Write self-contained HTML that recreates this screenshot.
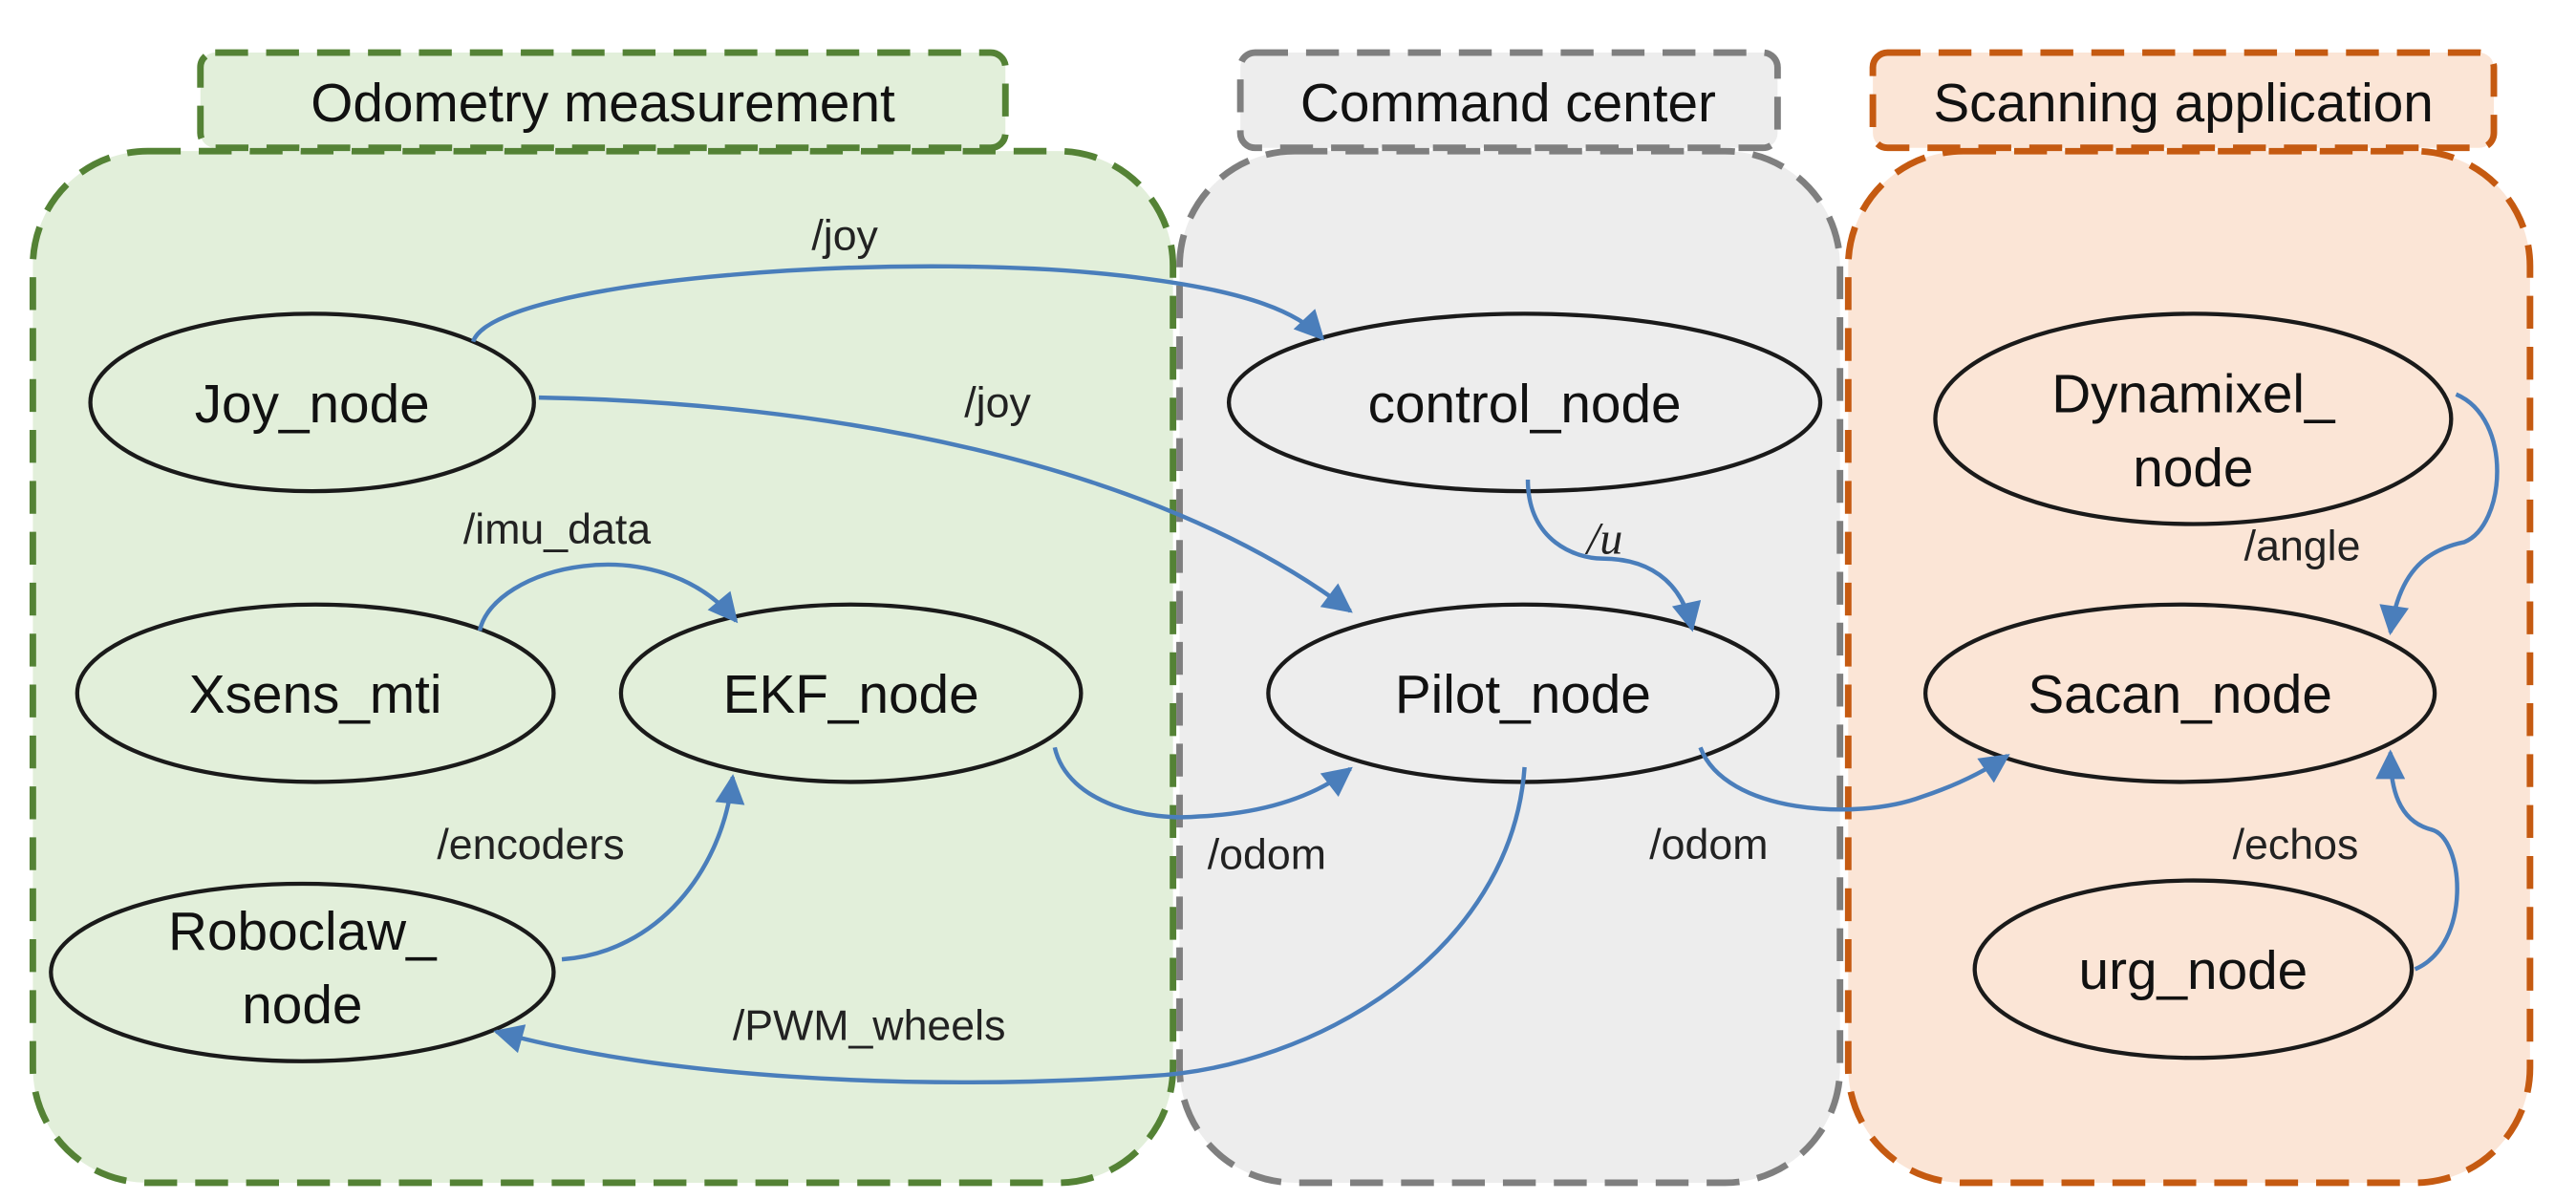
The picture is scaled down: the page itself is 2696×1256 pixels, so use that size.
<!DOCTYPE html>
<html><head><meta charset="utf-8"><style>
html,body{margin:0;padding:0;background:#fff}
svg{display:block}
text{font-family:"Liberation Sans",sans-serif;fill:#222}
.n{font-size:33px;text-anchor:middle;fill:#111}
.t{font-size:33px;text-anchor:middle;fill:#111}
.l{font-size:26px;fill:#222}
.e{fill:none;stroke:#4a7ebb;stroke-width:2.6}
</style></head><body>
<svg width="2696" height="1256" viewBox="0 0 1568 730.5" preserveAspectRatio="none" xmlns="http://www.w3.org/2000/svg">
<defs>
<marker id="b" viewBox="0 0 10 10" refX="9" refY="5" markerWidth="22" markerHeight="18" markerUnits="userSpaceOnUse" orient="auto"><path d="M0,0 L10,5 L0,10 z" fill="#4a7ebb"/></marker>
</defs>
<rect x="20" y="92" width="694" height="628" rx="70" fill="#e2efda" stroke="#548235" stroke-width="4" stroke-dasharray="20 11"/>
<rect x="122" y="32" width="490" height="58" rx="9" fill="#e2efda" stroke="#548235" stroke-width="4" stroke-dasharray="20 11"/>
<text class="t" x="367" y="74">Odometry measurement</text>
<rect x="718" y="92" width="402" height="628" rx="70" fill="#ededed" stroke="#7f7f7f" stroke-width="4" stroke-dasharray="20 11"/>
<rect x="755" y="32" width="327" height="58" rx="9" fill="#ededed" stroke="#7f7f7f" stroke-width="4" stroke-dasharray="20 11"/>
<text class="t" x="918" y="74">Command center</text>
<rect x="1125" y="92" width="415" height="628" rx="70" fill="#fbe5d6" stroke="#c55a11" stroke-width="4" stroke-dasharray="20 11"/>
<rect x="1140" y="32" width="378" height="58" rx="9" fill="#fbe5d6" stroke="#c55a11" stroke-width="4" stroke-dasharray="20 11"/>
<text class="t" x="1329" y="74">Scanning application</text>

<g fill="none" stroke="#1a1a1a" stroke-width="2.5">
<ellipse cx="190" cy="245" rx="135" ry="54"/>
<ellipse cx="192" cy="422" rx="145" ry="54"/>
<ellipse cx="518" cy="422" rx="140" ry="54"/>
<ellipse cx="184" cy="592" rx="153" ry="54"/>
<ellipse cx="928" cy="245" rx="180" ry="54"/>
<ellipse cx="927" cy="422" rx="155" ry="54"/>
<ellipse cx="1335" cy="255" rx="157" ry="64"/>
<ellipse cx="1327" cy="422" rx="155" ry="54"/>
<ellipse cx="1335" cy="590" rx="133" ry="54"/>
</g>
<text class="n" x="190" y="257">Joy_node</text>
<text class="n" x="192" y="434">Xsens_mti</text>
<text class="n" x="518" y="434">EKF_node</text>
<text class="n" x="184" y="578">Roboclaw_</text>
<text class="n" x="184" y="623">node</text>
<text class="n" x="928" y="257">control_node</text>
<text class="n" x="927" y="434">Pilot_node</text>
<text class="n" x="1335" y="251">Dynamixel_</text>
<text class="n" x="1335" y="296">node</text>
<text class="n" x="1327" y="434">Sacan_node</text>
<text class="n" x="1335" y="602">urg_node</text>

<g class="e" marker-end="url(#b)">
<path class="e" d="M288,208 C300,170 560,150 700,170 C760,178 790,190 805,206"/>
<path class="e" d="M328,242 C500,245 700,280 822,372"/>
<path class="e" d="M292,384 C300,345 400,320 448,378"/>
<path class="e" d="M342,584 C400,580 440,530 446,473"/>
<path class="e" d="M642,455 C650,490 700,500 730,497 C770,495 800,485 822,468"/>
<path class="e" d="M930,292 C930,330 960,340 975,340 C1010,340 1025,360 1030,383"/>
<path class="e" d="M1035,455 C1050,495 1130,500 1170,485 Q1200,475 1222,460"/>
<path class="e" d="M928,467 C920,580 800,650 700,655 C550,665 400,655 302,628"/>
<path class="e" d="M1495,240 C1530,255 1525,320 1500,330 C1475,335 1460,350 1455,385"/>
<path class="e" d="M1470,590 C1505,575 1500,510 1480,505 C1460,500 1455,480 1455,458"/>
</g>
<text class="l" x="494" y="152">/joy</text>
<text class="l" x="587" y="254">/joy</text>
<text class="l" x="282" y="331">/imu_data</text>
<text class="l" x="266" y="523">/encoders</text>
<text class="l" x="735" y="529">/odom</text>
<text x="966" y="337" style="font-family:'Liberation Serif',serif;font-style:italic;font-size:28px">/u</text>
<text class="l" x="1004" y="523">/odom</text>
<text class="l" x="446" y="633">/PWM_wheels</text>
<text class="l" x="1366" y="341">/angle</text>
<text class="l" x="1359" y="523">/echos</text>
</svg>
</body></html>
